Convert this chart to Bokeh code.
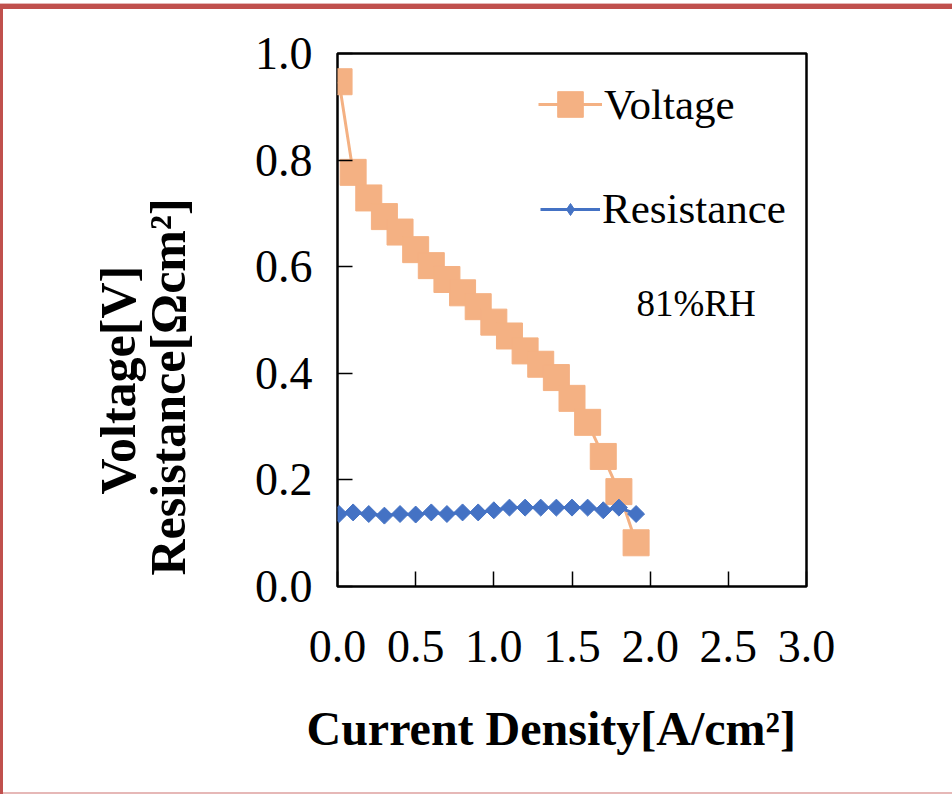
import math
from bokeh.plotting import figure
from bokeh.models import (Range1d, Label, Legend, LegendItem, LinearAxis, Title,
                          FixedTicker, NumeralTickFormatter, ColumnDataSource)
from bokeh.embed import file_html
from bokeh.resources import INLINE

# ---- data ----
current = [0.01, 0.10, 0.20, 0.30, 0.40, 0.50, 0.60, 0.70, 0.80, 0.90,
           1.00, 1.10, 1.20, 1.30, 1.40, 1.50, 1.60, 1.70, 1.80, 1.91]
voltage = [0.947, 0.777, 0.729, 0.694, 0.665, 0.632, 0.602, 0.576, 0.551, 0.525,
           0.496, 0.470, 0.442, 0.417, 0.392, 0.353, 0.308, 0.244, 0.178, 0.082]
resistance = [0.136, 0.139, 0.136, 0.133, 0.136, 0.135, 0.139, 0.136, 0.139, 0.139,
              0.143, 0.148, 0.148, 0.148, 0.148, 0.148, 0.148, 0.143, 0.148, 0.136]
x_ticks = [0.0, 0.5, 1.0, 1.5, 2.0, 2.5, 3.0]
y_ticks = [0.0, 0.2, 0.4, 0.6, 0.8, 1.0]
series_names = ["Voltage", "Resistance"]
annotation_text = "81%RH"
x_title = "Current Density[A/cm²]"
y_title_lines = ["Voltage[V]", "Resistance[Ωcm²]"]

# ---- layout ----
W, H = 952, 794
FL, FR, FT, FB = 337, 806, 53, 586
XMAX, YMAX = 3.0, 1.0
SERIF = "Liberation Serif"
ORANGE = "#F4B183"
BLUE = "#4472C4"
TICK_FS = "46px"


def dx(px):
    return (px - FL) / (FR - FL) * XMAX


def dy(py):
    return (FB - py) / (FB - FT) * YMAX


p = figure(width=W, height=H, output_backend="svg", toolbar_location=None,
           x_range=Range1d(0, XMAX), y_range=Range1d(0, YMAX),
           min_border_left=FL, min_border_right=W - FR,
           min_border_top=FT, min_border_bottom=H - FB)
p.background_fill_color = "white"
p.border_fill_color = None
p.styles = {"box-shadow": "inset 0 3px 0 0 #FFFFFF, inset 0 4px 0 0 #E6B8B7, "
                          "inset 3px 9px 0 0 #C0504D, inset 0 -2px 0 0 #E6B8B7",
            "background-color": "white"}
p.outline_line_color = "black"
p.outline_line_width = 2.5
p.xgrid.visible = False
p.ygrid.visible = False

for ax, ticks in ((p.xaxis, x_ticks), (p.yaxis, y_ticks)):
    ax.ticker = FixedTicker(ticks=ticks)
    ax.formatter = NumeralTickFormatter(format="0.0")
    ax.axis_line_color = None
    ax.major_tick_in = 15
    ax.major_tick_out = 0
    ax.major_tick_line_width = 1.5
    ax.major_tick_line_color = "black"
    ax.minor_tick_line_color = None
    ax.major_label_text_font = SERIF
    ax.major_label_text_font_size = TICK_FS
    ax.major_label_text_color = "black"
p.yaxis.major_label_standoff = 25
p.xaxis.major_label_standoff = 44

# blank axis used only as a spacer between the y tick labels and the title lines
# (one white, label-less tick at the bottom edge so that it takes up room)
spacer = LinearAxis(ticker=FixedTicker(ticks=[y_ticks[0]]), axis_line_color=None,
                    major_tick_line_color="white", minor_tick_line_color=None,
                    major_tick_out=55, major_tick_in=0, minor_tick_out=0,
                    minor_tick_in=0, major_label_standoff=0,
                    major_label_overrides={y_ticks[0]: ""},
                    major_label_text_font_size="1px")
p.add_layout(spacer, "left")

title_style = dict(text_font=SERIF, text_font_style="bold", text_color="black",
                   align="left")
p.add_layout(Title(text=y_title_lines[1], vertical_align="middle", standoff=0,
                   offset=11, text_font_size="50px", **title_style), "left")
p.add_layout(Title(text=y_title_lines[0], vertical_align="middle", standoff=-17,
                   offset=92, text_font_size="50px", **title_style), "left")
p.add_layout(Title(text=x_title, vertical_align="bottom", standoff=70,
                   offset=-31, text_font_size="48px", **title_style), "below")

src = ColumnDataSource(dict(x=current, v=voltage, r=resistance))

v_line = p.line("x", "v", source=src, line_color=ORANGE, line_width=3)
v_pts = p.scatter("x", "v", source=src, marker="square", size=26,
                  fill_color=ORANGE, line_color=ORANGE, line_width=1)
r_line = p.line("x", "r", source=src, line_color=BLUE, line_width=3)
r_pts = p.scatter("x", "r", source=src, marker="square", angle=math.pi / 4,
                  size=12, fill_color=BLUE, line_color=BLUE, line_width=1)
r_leg = p.scatter("x", "r", source=src, marker="diamond", size=12,
                  fill_color=BLUE, line_color=BLUE, line_width=1, visible=False)

common = dict(padding=0, margin=0, border_line_color=None, background_fill_alpha=0,
              label_text_font=SERIF, label_text_font_size="43px",
              label_text_color="black", inactive_fill_alpha=0,
              label_standoff=2, label_height=48)
leg1 = Legend(items=[LegendItem(label=series_names[0], renderers=[v_line, v_pts])],
              location=(201, FB - 138), glyph_width=64, glyph_height=68, **common)
leg2 = Legend(items=[LegendItem(label=series_names[1], renderers=[r_line, r_leg])],
              location=(203, FB - 233), glyph_width=60, glyph_height=30, **common)
p.add_layout(leg1)
p.add_layout(leg2)

p.add_layout(Label(x=dx(636), y=dy(303), text=annotation_text, text_font=SERIF,
                   text_font_size="37px", text_align="left", text_baseline="middle",
                   text_color="black"))

open("out.html", "w").write(file_html(p, INLINE))
